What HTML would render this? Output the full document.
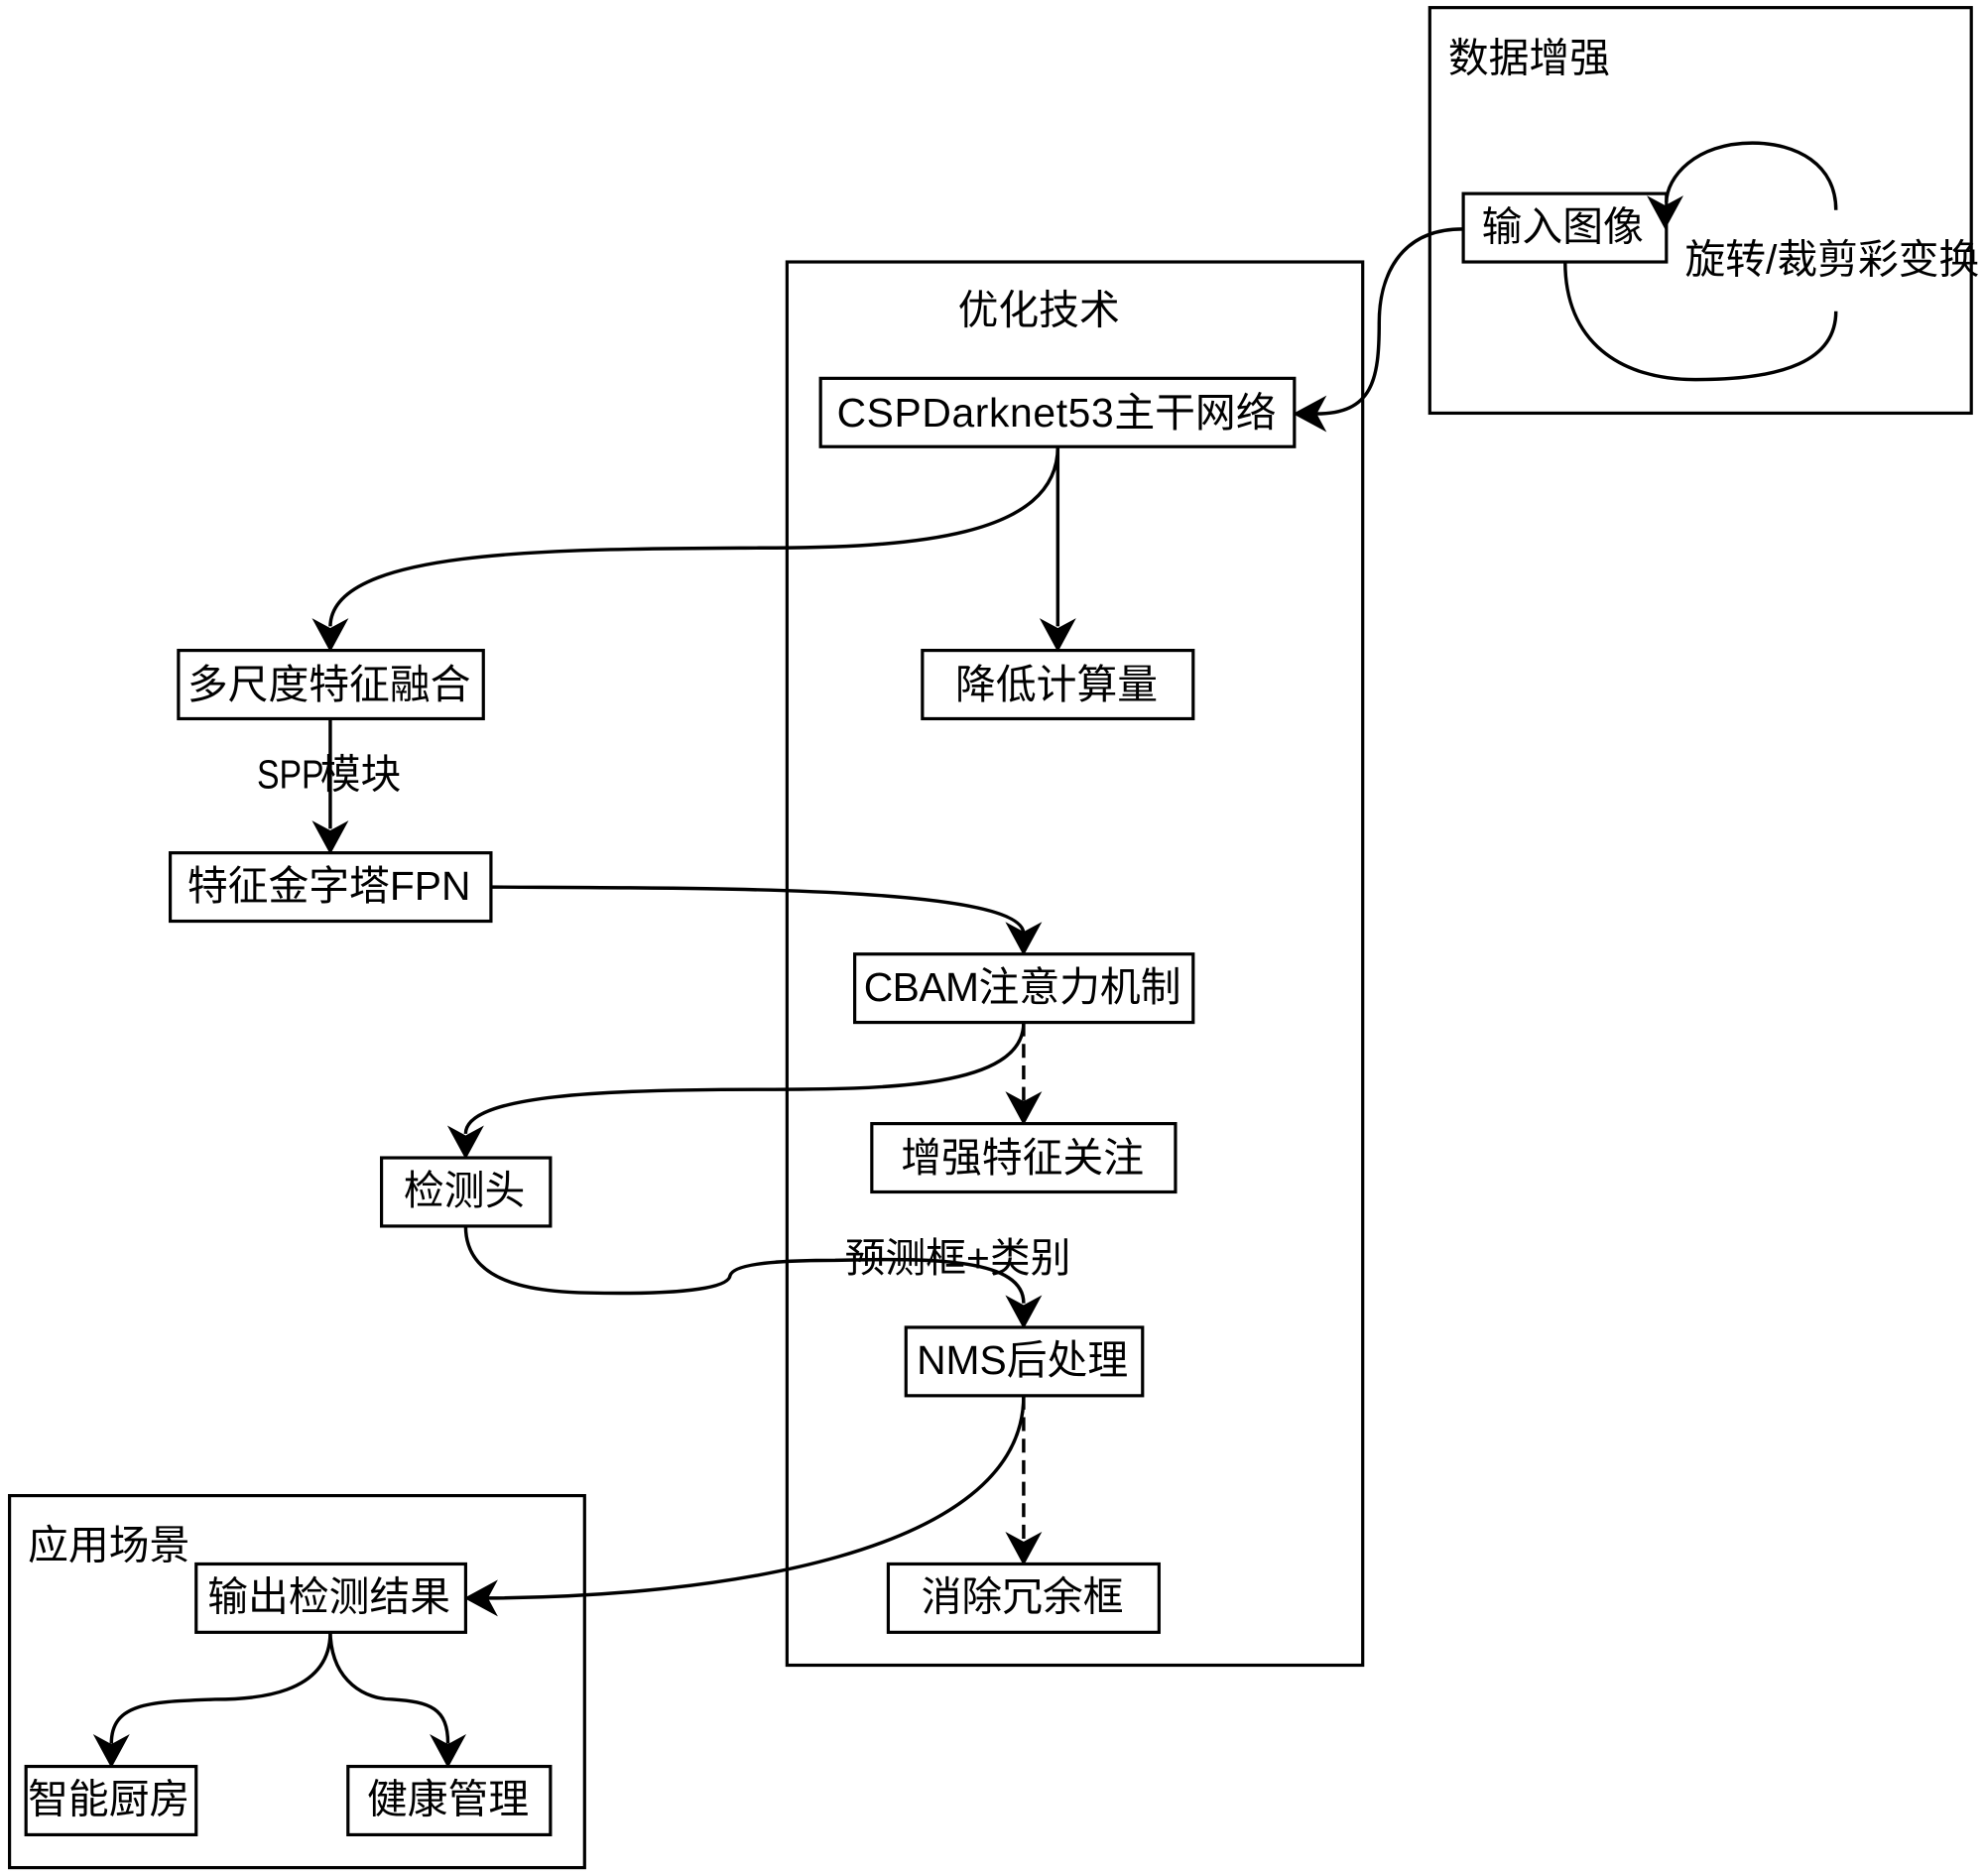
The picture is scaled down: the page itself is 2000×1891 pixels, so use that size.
<!DOCTYPE html>
<html><head><meta charset="utf-8"><style>
html,body{margin:0;padding:0;background:#fff}
svg{display:block}
text{font-family:"Liberation Sans","Noto Sans CJK SC",sans-serif;font-size:32px;fill:#000;text-anchor:middle}
.b{fill:#fff;stroke:#000;stroke-width:2.5}
.g{fill:none;stroke:#000;stroke-width:2.5}
.e{fill:none;stroke:#000;stroke-width:2.7}
.d{stroke-dasharray:11 6}
</style></head><body>
<svg width="2000" height="1891" viewBox="0 0 1568 1482.6" xmlns="http://www.w3.org/2000/svg">
<defs>
<path id="a" d="M0 0L-13 -24L0 -17L13 -24Z" fill="#000" stroke="#000" stroke-width="1.2"/>
</defs>
<rect class="g" x="1130" y="6" width="428" height="320.5"/>
<rect class="g" x="622" y="207" width="455" height="1109"/>
<rect class="g" x="7.5" y="1182" width="454.5" height="294"/>

<path class="e" d="M1156 181C1105 181 1090 220 1090 255C1090 300 1085 327 1040 327"/>
<path class="e" d="M836 353C836 425 720 433 600 433C440 434 262 433 261 495"/>
<path class="e" d="M836 353L836 495"/>
<path class="e" d="M261 568L261 655"/>
<path class="e" d="M388 701C560 702 809 700 809 738"/>
<path class="e" d="M809 808C809 860 700 861 600 861C480 861 368 865 368 896"/>
<path class="e d" d="M809 808L809 870"/>
<path class="e" d="M368 969C368 1022 440 1022 490 1022C540 1022 576 1018 577 1008C580 998 620 996 660 996C740 994 809 995 809 1030"/>
<path class="e d" d="M809 1103L809 1218"/>
<path class="e" d="M809 1103C809 1230 560 1262 385 1263"/>
<path class="e" d="M261 1290C261 1340 200 1343 170 1343C120 1345 88 1345 88 1378"/>
<path class="e" d="M261 1290C262 1330 290 1343 310 1343C340 1345 354 1350 354 1378"/>
<path class="e" d="M1237 207C1237 270 1280 300 1340 300C1410 300 1451 285 1451 246"/>

<rect class="b" x="1156.5" y="153" width="160.5" height="54"/>
<rect class="b" x="648.5" y="299" width="374.5" height="54"/>
<rect class="b" x="729" y="514" width="214" height="54"/>
<rect class="b" x="141" y="514" width="241" height="54"/>
<rect class="b" x="134.5" y="674" width="253.5" height="54"/>
<rect class="b" x="675.5" y="754" width="267.5" height="54"/>
<rect class="b" x="689" y="888" width="240" height="54"/>
<rect class="b" x="301.5" y="915" width="133.5" height="54"/>
<rect class="b" x="716" y="1049" width="187" height="54"/>
<rect class="b" x="702" y="1236" width="214" height="54"/>
<rect class="b" x="155" y="1236" width="213" height="54"/>
<rect class="b" x="20.5" y="1396" width="134.5" height="54"/>
<rect class="b" x="275" y="1396" width="160" height="54"/>

<path class="e" d="M1451 166C1451 130 1420 113 1385 113C1340 113 1317 140 1317 160"/>
<use href="#a" transform="translate(1316 180)"/>
<use href="#a" transform="translate(1023 327) rotate(90)"/>
<use href="#a" transform="translate(261 514)"/>
<use href="#a" transform="translate(836 514)"/>
<use href="#a" transform="translate(261 674)"/>
<use href="#a" transform="translate(809 754)"/>
<use href="#a" transform="translate(809 888)"/>
<use href="#a" transform="translate(368 915)"/>
<use href="#a" transform="translate(809 1049)"/>
<use href="#a" transform="translate(809 1236)"/>
<use href="#a" transform="translate(368 1263) rotate(90)"/>
<use href="#a" transform="translate(88 1396)"/>
<use href="#a" transform="translate(354 1396)"/>

<text x="1208.5" y="57">数据增强</text>
<text x="1235" y="190">输入图像</text>
<text x="1448" y="216">旋转/裁剪彩变换</text>
<text x="821" y="256">优化技术</text>
<text x="835" y="337"><tspan letter-spacing="0.5">CSPDarknet53</tspan>主干网络</text>
<text x="835" y="552">降低计算量</text>
<text x="260" y="552">多尺度特征融合</text>
<text x="203" y="623" style="text-anchor:start" textLength="53" lengthAdjust="spacingAndGlyphs">SPP</text>
<text x="253" y="623" style="text-anchor:start">模块</text>
<text x="260" y="711">特征金字塔FPN</text>
<text x="808" y="791"><tspan letter-spacing="-0.4">CBAM</tspan>注意力机制</text>
<text x="808" y="926">增强特征关注</text>
<text x="367" y="952">检测头</text>
<text x="757" y="1005">预测框+类别</text>
<text x="808" y="1086">NMS后处理</text>
<text x="808" y="1273">消除冗余框</text>
<text x="86" y="1232">应用场景</text>
<text x="260" y="1273">输出检测结果</text>
<text x="86" y="1433">智能厨房</text>
<text x="354" y="1433">健康管理</text>
</svg>
</body></html>
